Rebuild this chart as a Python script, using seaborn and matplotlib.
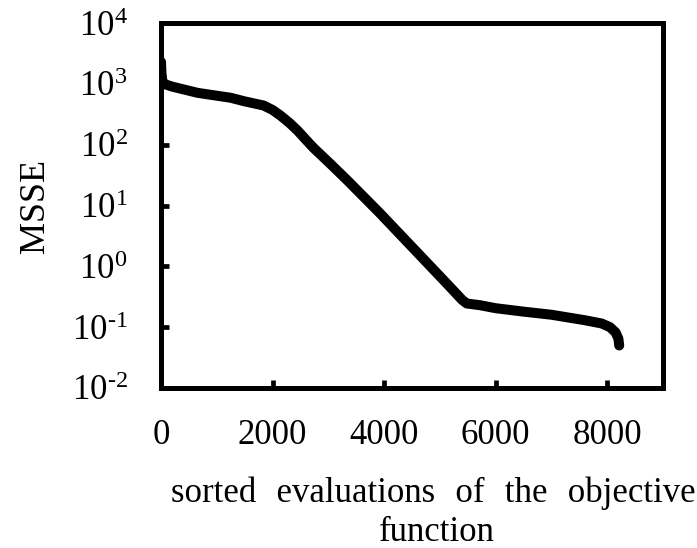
import numpy as np
import pandas as pd
import matplotlib
matplotlib.use("Agg")
import matplotlib.pyplot as plt
import seaborn as sns
from matplotlib.ticker import FixedLocator, FixedFormatter, NullLocator

# data
evaluations = [0, 8, 25, 50, 200, 660, 1250, 1500, 1840, 2000, 2140, 2300, 2450,
               2600, 2732, 3040, 3339, 3929, 4518, 5125, 5400, 5482, 5714, 6000,
               6500, 7000, 7600, 7900, 8050, 8150, 8200, 8215]
msse = [2300, 1500, 1100, 1000, 900, 710, 590, 515, 440, 372, 302, 229, 170,
        120, 89, 48, 26, 7.4, 2.0, 0.52, 0.28, 0.245, 0.23, 0.205, 0.18, 0.16,
        0.13, 0.115, 0.1, 0.082, 0.065, 0.05]
y_ticks = [1e-2, 1e-1, 1e0, 1e1, 1e2, 1e3, 1e4]
y_exponents = ["-2", "-1", "0", "1", "2", "3", "4"]
x_ticks = [0, 2000, 4000, 6000, 8000]
xlabel_words = ["sorted", "evaluations", "of", "the", "objective"]
xlabel_line2 = "function"
ylabel = "MSSE"

sns.set_theme(style="white")
plt.rcParams["font.family"] = ["Liberation Serif", "DejaVu Serif"]
plt.rcParams["mathtext.fontset"] = "custom"
plt.rcParams["mathtext.rm"] = "Liberation Serif"
plt.rcParams["mathtext.it"] = "Liberation Serif:italic"
plt.rcParams["mathtext.bf"] = "Liberation Serif:bold"

df = pd.DataFrame({"evaluations": evaluations, "MSSE": msse})

fig = plt.figure(figsize=(6.97, 5.48), dpi=100)
ax = fig.add_axes([161 / 697, 1 - 388 / 548, (663 - 161) / 697, (388 - 23) / 548])

sns.lineplot(data=df, x="evaluations", y="MSSE", ax=ax, color="black",
             linewidth=7.2, sort=False, solid_capstyle="round",
             solid_joinstyle="round")

ax.set_yscale("log")
ax.set_ylim(1e-2, 1e4)
ax.set_xlim(0, 9000)
ax.yaxis.set_major_locator(FixedLocator(y_ticks))
ax.yaxis.set_major_formatter(FixedFormatter(
    [r"$\mathdefault{10^{\text{%s}}}$" % e for e in y_exponents]))
ax.yaxis.set_minor_locator(NullLocator())
ax.xaxis.set_major_locator(FixedLocator(x_ticks))

for s in ax.spines.values():
    s.set_visible(True)
    s.set_color("black")
    s.set_linewidth(3.6)

ax.tick_params(axis="both", which="major", direction="in", length=6, width=3.4,
               color="black", labelsize=25, labelcolor="black")
ax.tick_params(axis="y", pad=24, left=True, right=False)
ax.tick_params(axis="x", pad=22, bottom=True, top=False)
ax.grid(False)

ax.set_xlabel("")
ax.set_ylabel(ylabel, fontsize=26, color="black", labelpad=14)

wide_space = "\u2002\u200a"
fig.text(433 / 697, 1 - 502 / 548, wide_space.join(xlabel_words), ha="center",
         va="baseline", fontsize=25, color="black")
fig.text(437 / 697, 1 - 541 / 548, xlabel_line2, ha="center", va="baseline",
         fontsize=25, color="black")

fig.savefig("out.png", dpi=100, facecolor="white")
